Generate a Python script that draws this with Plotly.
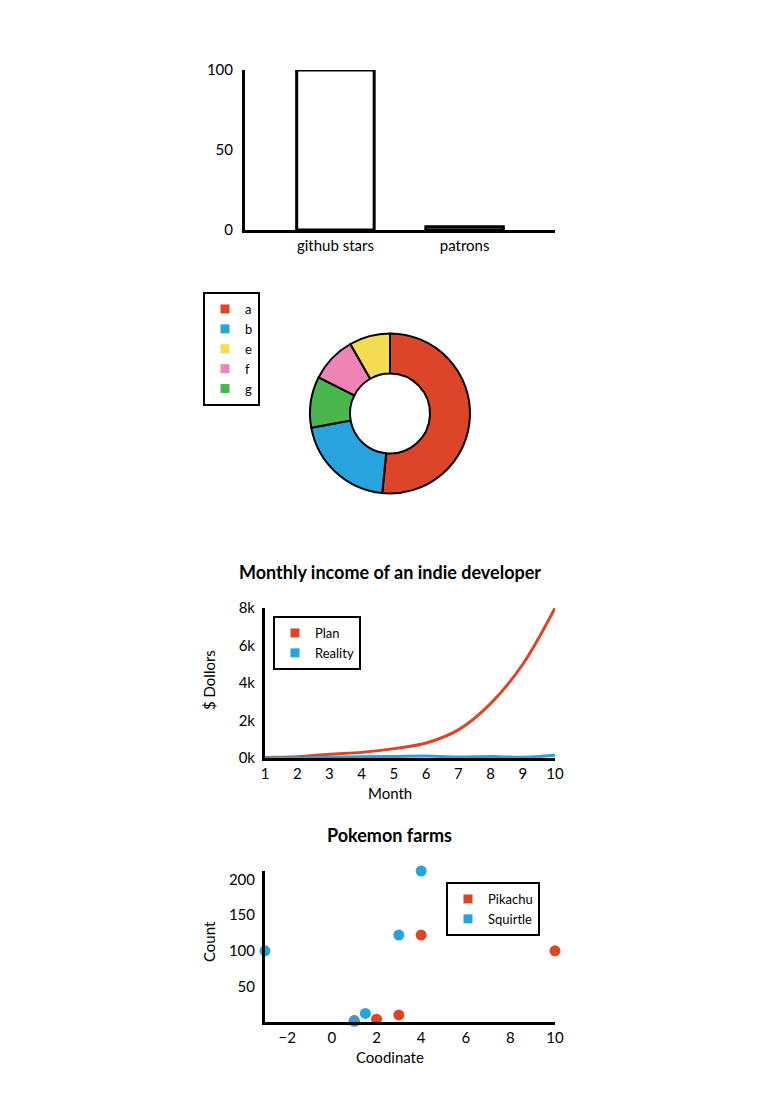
import plotly.graph_objects as go

W, H = 779, 1096
FONT = "Lato"
BLACK = "#000000"
COLORS = ["#dd4528", "#28a3dd", "#f3db52", "#ed84b5", "#4ab74e"]

# ---- data ----
bar_labels = ["github stars", "patrons"]
bar_values = [100, 2]

pie_labels = ["a", "b", "e", "f", "g"]
pie_values = [500, 200, 80, 90, 100]
pie_colors = ["#dd4528", "#28a3dd", "#f3db52", "#ed84b5", "#4ab74e"]

months = [1, 2, 3, 4, 5, 6, 7, 8, 9, 10]
plan = [30, 70, 200, 300, 500, 800, 1500, 2900, 5000, 8000]
reality = [0, 1, 30, 70, 80, 100, 50, 80, 40, 150]
income_ticks = [0, 2000, 4000, 6000, 8000]
income_ticktext = ["0k", "2k", "4k", "6k", "8k"]

pika_x = [3, 4, 10, 1, 2]
pika_y = [10, 122, 100, 2, 4]
squirt_x = [3, 4, -3, 1, 1.5]
squirt_y = [122, 212, 100, 1, 12]


def px_x(p):
    return p / W


def px_y(p):
    return 1 - p / H


fig = go.Figure()

# bar chart
fig.add_trace(go.Bar(x=bar_labels, y=bar_values, xaxis="x", yaxis="y",
                     marker=dict(color="white", line=dict(color=BLACK, width=3)),
                     showlegend=False, hoverinfo="skip"))

# pie chart (d3-style: slices sorted by value, legend in label order)
fig.add_trace(go.Pie(labels=pie_labels, values=pie_values, hole=0.5, sort=True,
                     direction="clockwise", showlegend=False,
                     marker=dict(colors=pie_colors, line=dict(color=BLACK, width=2)),
                     textinfo="none",
                     domain=dict(x=[px_x(310), px_x(470)], y=[px_y(494), px_y(333)])))
for name, c in zip(pie_labels, pie_colors):
    fig.add_trace(go.Scatter(x=[None], y=[None], mode="markers", name=name,
                             marker=dict(symbol="square", size=9, color=c),
                             xaxis="x", yaxis="y", legend="legend"))

# line chart
fig.add_trace(go.Scatter(x=months, y=plan, mode="lines", line=dict(color=COLORS[0], width=3, shape="spline"),
                         xaxis="x2", yaxis="y2", showlegend=False))
fig.add_trace(go.Scatter(x=months, y=reality, mode="lines", line=dict(color=COLORS[1], width=3, shape="spline"),
                         xaxis="x2", yaxis="y2", showlegend=False))
for name, c in [("Plan", COLORS[0]), ("Reality", COLORS[1])]:
    fig.add_trace(go.Scatter(x=[None], y=[None], mode="markers", name=name,
                             marker=dict(symbol="square", size=9, color=c),
                             xaxis="x2", yaxis="y2", legend="legend2"))

# scatter chart
fig.add_trace(go.Scatter(x=pika_x, y=pika_y, mode="markers", marker=dict(color=COLORS[0], size=11),
                         xaxis="x3", yaxis="y3", showlegend=False, cliponaxis=False))
fig.add_trace(go.Scatter(x=squirt_x, y=squirt_y, mode="markers", marker=dict(color=COLORS[1], size=11),
                         xaxis="x3", yaxis="y3", showlegend=False, cliponaxis=False))
for name, c in [("Pikachu", COLORS[0]), ("Squirtle", COLORS[1])]:
    fig.add_trace(go.Scatter(x=[None], y=[None], mode="markers", name=name,
                             marker=dict(symbol="square", size=9, color=c),
                             xaxis="x3", yaxis="y3", legend="legend3"))

axis_common = dict(showgrid=False, zeroline=False, showline=True, linecolor=BLACK, linewidth=3,
                   ticks="", tickfont=dict(family=FONT, size=15, color=BLACK), fixedrange=True,
                   automargin=False)

legend_common = dict(bgcolor="white", bordercolor=BLACK, borderwidth=2,
                     font=dict(family=FONT, size=13, color=BLACK),
                     xanchor="left", yanchor="top", itemwidth=30)

title_font = dict(family=FONT, size=18, color=BLACK, weight="bold")
label_font = dict(family=FONT, size=15, color=BLACK)

fig.update_layout(
    width=W, height=H, margin=dict(l=0, r=0, t=0, b=0, pad=0, autoexpand=False),
    paper_bgcolor="white", plot_bgcolor="white",
    font=dict(family=FONT, size=14, color=BLACK),
    bargap=0.4,
    xaxis=dict(domain=[px_x(245), px_x(555)], range=[-0.7, 1.7], anchor="y", **axis_common),
    yaxis=dict(domain=[px_y(230), px_y(70)], range=[0, 100], tickvals=[0, 50, 100], anchor="x",
               ticklabelstandoff=6, **axis_common),
    xaxis2=dict(domain=[px_x(265), px_x(555)], range=[1, 10], tickvals=months, anchor="y2", **axis_common),
    yaxis2=dict(domain=[px_y(758), px_y(608)], range=[0, 8000], tickvals=income_ticks,
                ticktext=income_ticktext, anchor="x2", ticklabelstandoff=4, **axis_common),
    xaxis3=dict(domain=[px_x(265), px_x(555)], range=[-3, 10], tickvals=[-2, 0, 2, 4, 6, 8, 10],
                anchor="y3", **axis_common),
    yaxis3=dict(domain=[px_y(1022), px_y(871)], range=[0, 212], tickvals=[50, 100, 150, 200],
                anchor="x3", ticklabelstandoff=4, **axis_common),
    legend=dict(x=px_x(203), y=px_y(292), **legend_common),
    legend2=dict(x=px_x(273), y=px_y(616), **legend_common),
    legend3=dict(x=px_x(446), y=px_y(882), **legend_common),
    annotations=[
        dict(text="Monthly income of an indie developer", x=px_x(389.5), y=px_y(572), xref="paper", yref="paper",
             showarrow=False, font=title_font, xanchor="center", yanchor="middle"),
        dict(text="$ Dollors", x=px_x(209), y=px_y(680), xref="paper", yref="paper", textangle=-90,
             showarrow=False, font=label_font, xanchor="center", yanchor="middle"),
        dict(text="Month", x=px_x(390), y=px_y(793), xref="paper", yref="paper",
             showarrow=False, font=label_font, xanchor="center", yanchor="middle"),
        dict(text="Pokemon farms", x=px_x(389.5), y=px_y(835), xref="paper", yref="paper",
             showarrow=False, font=title_font, xanchor="center", yanchor="middle"),
        dict(text="Count", x=px_x(209), y=px_y(942), xref="paper", yref="paper", textangle=-90,
             showarrow=False, font=label_font, xanchor="center", yanchor="middle"),
        dict(text="Coodinate", x=px_x(390), y=px_y(1057), xref="paper", yref="paper",
             showarrow=False, font=label_font, xanchor="center", yanchor="middle"),
    ],
)

fig.write_html("out.html")
